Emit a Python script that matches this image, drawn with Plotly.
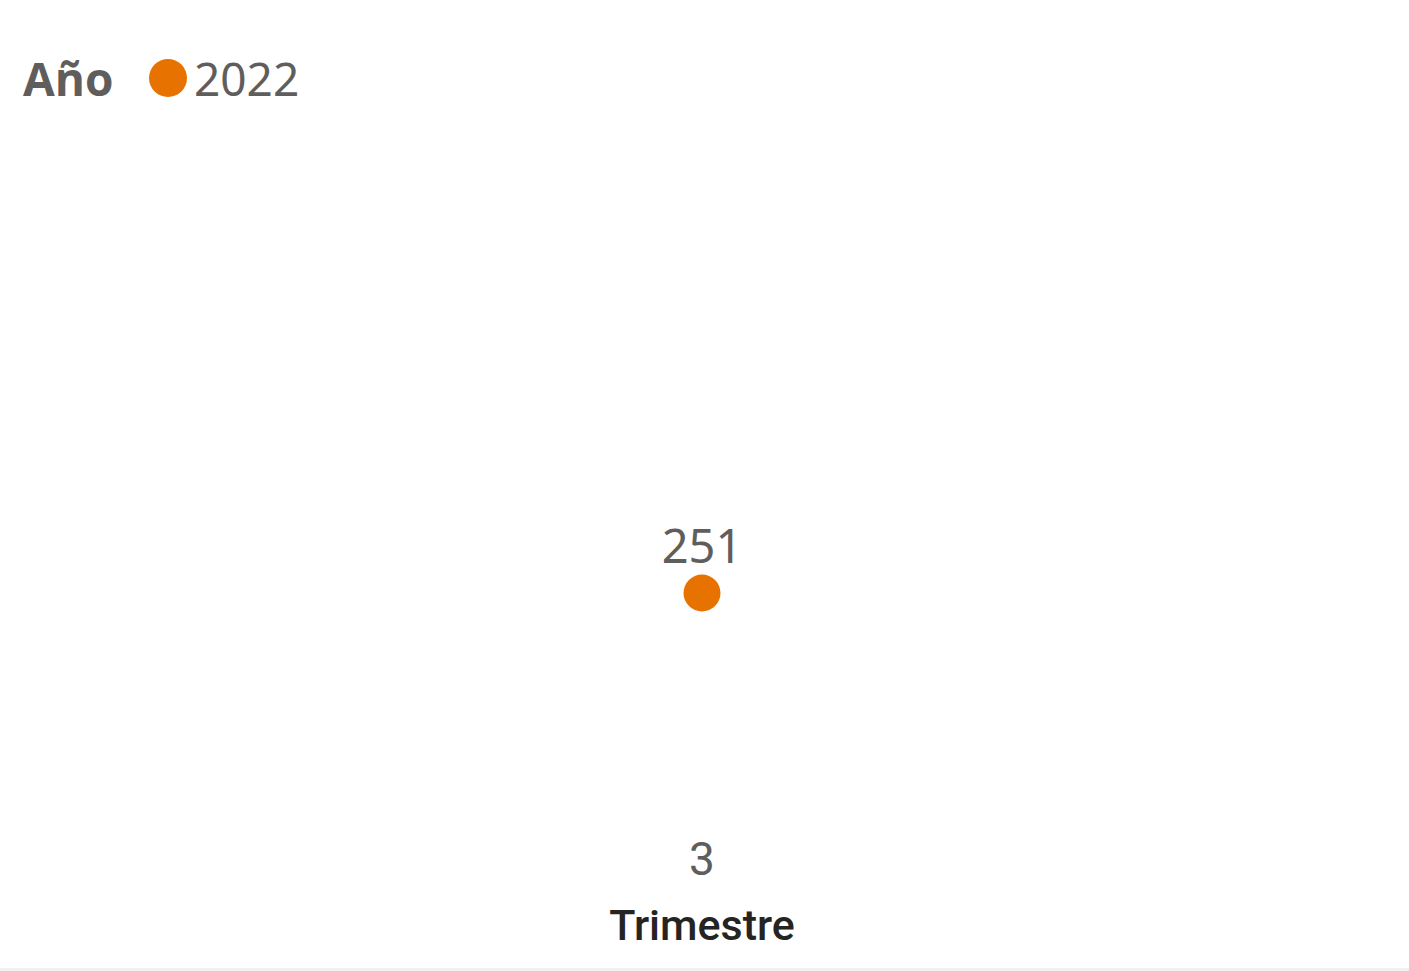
import plotly.graph_objects as go

# Data
quarters = ["3"]
values = [251]
year_label = "2022"
legend_title = "Año"
x_title = "Trimestre"

ORANGE = "#E87200"
GREY = "#605E5C"
DARK = "#252423"

W, H = 1409, 971
ML, MR, MT, MB = 0, 5, 130, 151

fig = go.Figure()
fig.add_trace(go.Scatter(
    x=quarters, y=values, mode="markers",
    marker=dict(size=37, color=ORANGE),
    name=year_label, showlegend=False, cliponaxis=False, hoverinfo="x+y",
))
fig.add_trace(go.Scatter(
    x=quarters, y=values, mode="markers+text",
    marker=dict(size=27, color=ORANGE, opacity=0),
    text=[str(v) for v in values], textposition="top center",
    textfont=dict(family="Noto Sans", size=47, color=GREY),
    name=year_label, showlegend=False, cliponaxis=False, hoverinfo="skip",
))

pw = W - ML - MR
ph = H - MT - MB

def px_x(x):
    return (x - ML) / pw

def px_y(y):
    return (H - MB - y) / ph

fig.update_layout(
    width=W, height=H,
    margin=dict(l=ML, r=MR, t=MT, b=MB),
    paper_bgcolor="white", plot_bgcolor="white",
    xaxis=dict(type="category", showgrid=False, zeroline=False, showline=False,
               ticks="", ticklabelstandoff=8,
               tickfont=dict(family="Roboto", size=46, color=GREY),
               title=dict(text=x_title, font=dict(family="Roboto", size=43, color=DARK, weight=500),
                          standoff=24)),
    yaxis=dict(visible=False, range=[0, 763]),
    annotations=[
        dict(text="<b>" + legend_title + "</b>", xref="paper", yref="paper",
             x=px_x(21), y=px_y(78), xanchor="left", yanchor="middle", showarrow=False,
             font=dict(family="Open Sans", size=46, color=GREY)),
        dict(text=year_label, xref="paper", yref="paper",
             x=px_x(192), y=px_y(78), xanchor="left", yanchor="middle", showarrow=False,
             font=dict(family="Noto Sans", size=46, color=GREY)),
    ],
    shapes=[
        dict(type="circle", xref="paper", yref="paper",
             x0=px_x(149), x1=px_x(187), y0=px_y(97), y1=px_y(59),
             fillcolor=ORANGE, line=dict(width=0)),
        dict(type="rect", xref="paper", yref="paper",
             x0=px_x(0), x1=px_x(W), y0=px_y(971), y1=px_y(968),
             fillcolor="#F0F0F0", line=dict(width=0), layer="below"),
    ],
)

fig.write_html("out.html", config={"displayModeBar": False},
               post_script="document.body.style.margin='0';")
